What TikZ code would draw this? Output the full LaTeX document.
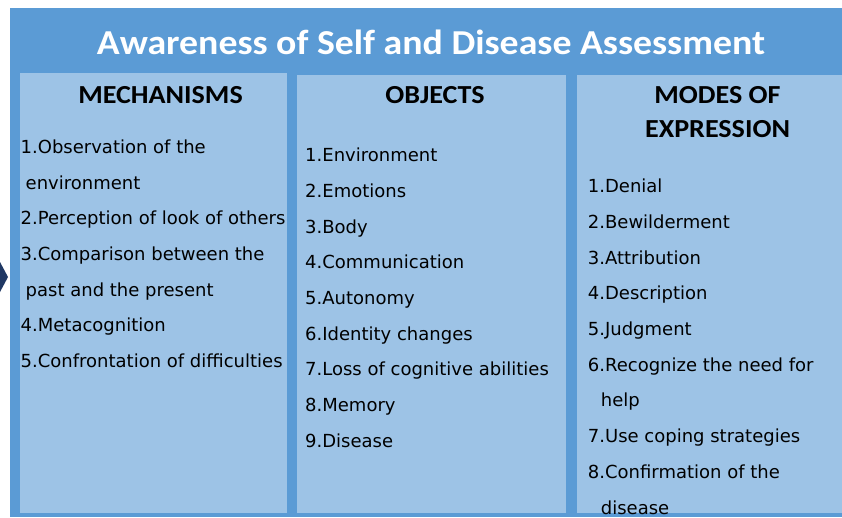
\documentclass[tikz,border=0pt]{standalone}
\usepackage{fontspec}
\setmainfont{DejaVu Sans}
\newfontfamily\headfont{Carlito}[FakeStretch=1.08]
\definecolor{outerblue}{HTML}{5B9BD5}
\definecolor{panelblue}{HTML}{9DC3E6}
\definecolor{arrownavy}{HTML}{1F3864}
\tikzset{
  panel/.style={fill=panelblue, draw=none, anchor=north west, inner sep=0pt},
  head/.style={inner sep=0pt, align=center, font=\headfont\bfseries\fontsize{26}{34}\selectfont},
  item/.style={anchor=base west, inner sep=0pt, font=\fontsize{18}{18}\selectfont}
}
\begin{document}
\begin{tikzpicture}[x=1pt,y=-1pt]
\useasboundingbox (0,0) rectangle (842,517);
\fill[white] (0,0) rectangle (842,517);
\fill[outerblue] (10,8) rectangle (842,517);
\fill[arrownavy] (0,262) -- (8,277) -- (0,292) -- cycle;
\node[anchor=base, text=white, inner sep=0pt, font=\headfont\bfseries\fontsize{35}{35}\selectfont] (title) at (431,54.3) {Awareness of Self and Disease Assessment};
% the three columns
\node[panel, minimum width=267pt, minimum height=440pt] (mech) at (20,73) {};
\node[panel, minimum width=269pt, minimum height=438pt] (obj) at (297,75) {};
\node[panel, minimum width=265pt, minimum height=438pt] (modes) at (577,75) {};
\node[head, anchor=base] (mechhead) at (160.5,103.3) {MECHANISMS};
\node[head, anchor=base] (objhead) at (435,103.3) {OBJECTS};
\node[head] (modeshead) at (717.5,112) {MODES OF\\EXPRESSION};
% lists
\foreach \txt [count=\i from 0] in {1.Observation of the, \hspace{5pt}environment, 2.Perception of look of others, 3.Comparison between the, \hspace{5pt}past and the present, 4.Metacognition, 5.Confrontation of difficulties}
  \node[item] (mechline\i) at (20.5,153.3+35.7*\i) {\txt};
\foreach \txt [count=\i from 0] in {1.Environment, 2.Emotions, 3.Body, 4.Communication, 5.Autonomy, 6.Identity changes, 7.Loss of cognitive abilities, 8.Memory, 9.Disease}
  \node[item] (objline\i) at (305,161.7+35.7*\i) {\txt};
\foreach \txt [count=\i from 0] in {1.Denial, 2.Bewilderment, 3.Attribution, 4.Description, 5.Judgment, 6.Recognize the need for, \hspace{13pt}help, 7.Use coping strategies, 8.Confirmation of the, \hspace{13pt}disease}
  \node[item] (modesline\i) at (587.7,192.7+35.7*\i) {\txt};
\end{tikzpicture}
\end{document}
